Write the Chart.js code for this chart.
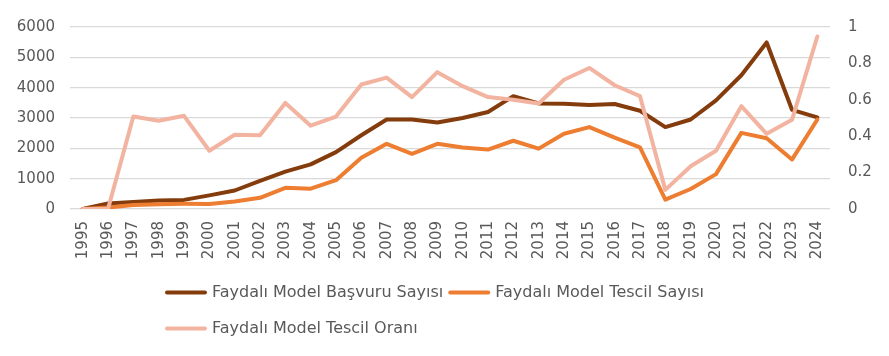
<!DOCTYPE html>
<html>
<head>
<meta charset="utf-8">
<script src="https://cdn.jsdelivr.net/npm/chart.js@4.4.1/dist/chart.umd.min.js"></script>
<style>
html,body{margin:0;padding:0;background:#fff;}
#wrap{width:889px;height:356px;position:relative;}
</style>
</head>
<body>
<div id="wrap"><canvas id="c" width="889" height="356"></canvas></div>
<script>
const years = ['1995','1996','1997','1998','1999','2000','2001','2002','2003','2004','2005','2006','2007','2008','2009','2010','2011','2012','2013','2014','2015','2016','2017','2018','2019','2020','2021','2022','2023','2024'];
const basvuru = [0,180,230,280,300,450,610,930,1230,1470,1875,2430,2950,2950,2850,3000,3200,3720,3480,3470,3430,3460,3240,2700,2950,3580,4410,5490,3270,3020];
const tescil = [0,50,130,160,170,165,250,370,700,670,950,1690,2150,1820,2150,2030,1960,2250,1990,2480,2700,2350,2030,310,660,1150,2510,2330,1630,2950];
const oran = [0,0,0.508,0.485,0.512,0.32,0.408,0.405,0.583,0.458,0.508,0.684,0.722,0.615,0.752,0.675,0.615,0.60,0.58,0.71,0.775,0.68,0.62,0.105,0.235,0.32,0.565,0.413,0.49,0.948];
const leftTicks = ['0','1000','2000','3000','4000','5000','6000'];
const rightTicks = ['0','0.2','0.4','0.6','0.8','1'];
const seriesNames = ['Faydalı Model Başvuru Sayısı','Faydalı Model Tescil Sayısı','Faydalı Model Tescil Oranı'];
const seriesColors = ['#843C0C','#ED7D31','#F2B4A1'];

const FONT = '"DejaVu Sans", sans-serif';
const GRAY = '#595959';

const legendPlugin = {
  id: 'customLegend',
  afterDraw(chart) {
    const ctx = chart.ctx;
    ctx.save();
    ctx.font = '16px ' + FONT;
    ctx.textBaseline = 'middle';
    ctx.textAlign = 'left';
    const boxW = 42, gap = 5, itemGap = 5;
    const rows = [[0,1],[2]];
    const rowY = [292.5, 328.5];
    rows.forEach((row, r) => {
      let x = 165;
      row.forEach(i => {
        const ds = chart.data.datasets[i];
        ctx.strokeStyle = ds.borderColor;
        ctx.lineWidth = 4;
        ctx.lineCap = 'round';
        ctx.beginPath();
        ctx.moveTo(x + 2, rowY[r]);
        ctx.lineTo(x + boxW - 2, rowY[r]);
        ctx.stroke();
        ctx.fillStyle = GRAY;
        ctx.fillText(ds.label, x + boxW + gap, rowY[r] + 0.5);
        x += boxW + gap + ctx.measureText(ds.label).width + itemGap;
      });
    });
    ctx.restore();
  }
};

new Chart(document.getElementById('c'), {
  type: 'line',
  data: {
    labels: years,
    datasets: [
      {label: seriesNames[0], data: basvuru, borderColor: seriesColors[0], backgroundColor: seriesColors[0], yAxisID: 'y', order: 2},
      {label: seriesNames[1], data: tescil, borderColor: seriesColors[1], backgroundColor: seriesColors[1], yAxisID: 'y', order: 1},
      {label: seriesNames[2], data: oran, borderColor: seriesColors[2], backgroundColor: seriesColors[2], yAxisID: 'y1', order: 0}
    ]
  },
  options: {
    responsive: false,
    animation: false,
    devicePixelRatio: 1,
    layout: {padding: {top: 22, left: 0, right: 0, bottom: 0}},
    elements: {
      line: {borderWidth: 4, tension: 0, borderJoinStyle: 'round', borderCapStyle: 'round', fill: false},
      point: {radius: 0, hoverRadius: 0}
    },
    plugins: {legend: {display: false}, tooltip: {enabled: false}},
    scales: {
      x: {
        offset: true,
        grid: {display: false, drawTicks: false},
        border: {display: false},
        ticks: {autoSkip: false, minRotation: 90, maxRotation: 90, padding: 12, color: GRAY, font: {family: FONT, size: 15}},
        afterFit(s) { s.height = 147; }
      },
      y: {
        position: 'left',
        min: 0, max: 6000,
        grid: {color: '#d9d9d9', lineWidth: 1.3, drawTicks: false},
        border: {display: false},
        ticks: {stepSize: 1000, padding: 15, color: GRAY, font: {family: FONT, size: 15},
          callback: (v, i) => leftTicks[i]},
        afterFit(s) { s.width = 70; }
      },
      y1: {
        position: 'right',
        min: 0, max: 1,
        grid: {display: false, drawTicks: false},
        border: {display: false},
        ticks: {stepSize: 0.2, padding: 18, color: GRAY, font: {family: FONT, size: 15},
          callback: (v, i) => rightTicks[i]},
        afterFit(s) { s.width = 59; }
      }
    }
  },
  plugins: [legendPlugin]
});
</script>
</body>
</html>
